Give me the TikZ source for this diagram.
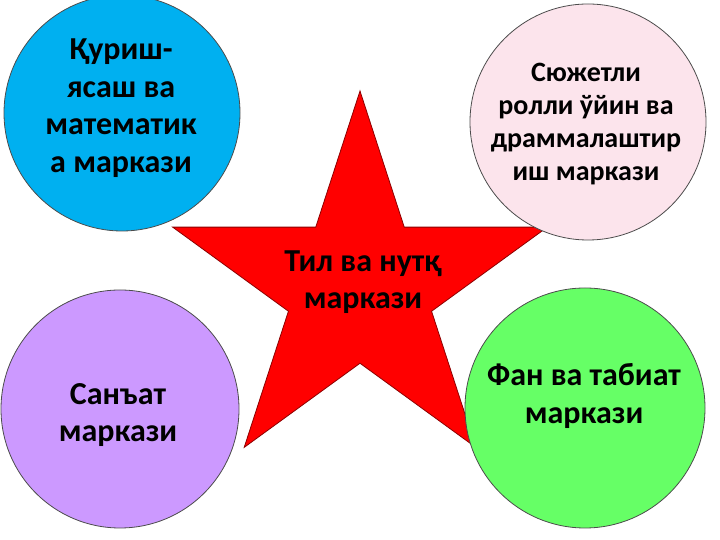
\documentclass[tikz,border=0pt]{standalone}
\usepackage{fontspec}
\setmainfont{Carlito}
\usepackage{tikz}
\usetikzlibrary{shapes.geometric}
\definecolor{qblue}{RGB}{0,176,240}
\definecolor{qpink}{RGB}{252,228,236}
\definecolor{qviolet}{RGB}{204,153,255}
\definecolor{qgreen}{RGB}{102,255,102}
\tikzset{
  centre/.style={circle,draw=black!70,line width=0.8pt,minimum size=236pt,inner sep=0pt},
  lbl/.style={align=center,text=black,font=\bfseries\fontsize{32}{37.5}\selectfont},
}

\begin{document}
\begin{tikzpicture}[x=1pt,y=1pt]
\useasboundingbox (0,0) rectangle (720,540);
    % star in the middle, circles over it
    \node[star,star points=5,star point ratio=2.618,minimum size=394pt,inner sep=0pt,
          fill=red,draw=red!55!black,line width=0.8pt] (tilstar) at (360,252) {};
    \node[centre,fill=qblue] (qurish) at (122,427) {};
    \node[centre,fill=qpink] (syujet) at (588,418) {};
    \node[centre,fill=qviolet,minimum size=238pt] (sanat) at (120,131) {};
    \node[centre,fill=qgreen,minimum size=240pt] (fan) at (585,132) {};
    \node[lbl] (tiltxt) at (363,258) {Тил ва нутқ\\маркази};
    \node[lbl] (qurishtxt) at (121,432) {Қуриш-\\ясаш ва\\математик\\а маркази};
    \node[lbl,font=\bfseries\fontsize{28}{33}\selectfont] (syujettxt) at (586,416) {Сюжетли\\ролли ўйин ва\\драммалаштир\\иш маркази};
    \node[lbl] (sanattxt) at (118,125) {Санъат\\маркази};
    \node[lbl] (fantxt) at (584,144) {Фан ва табиат\\маркази};
\end{tikzpicture}
\end{document}
